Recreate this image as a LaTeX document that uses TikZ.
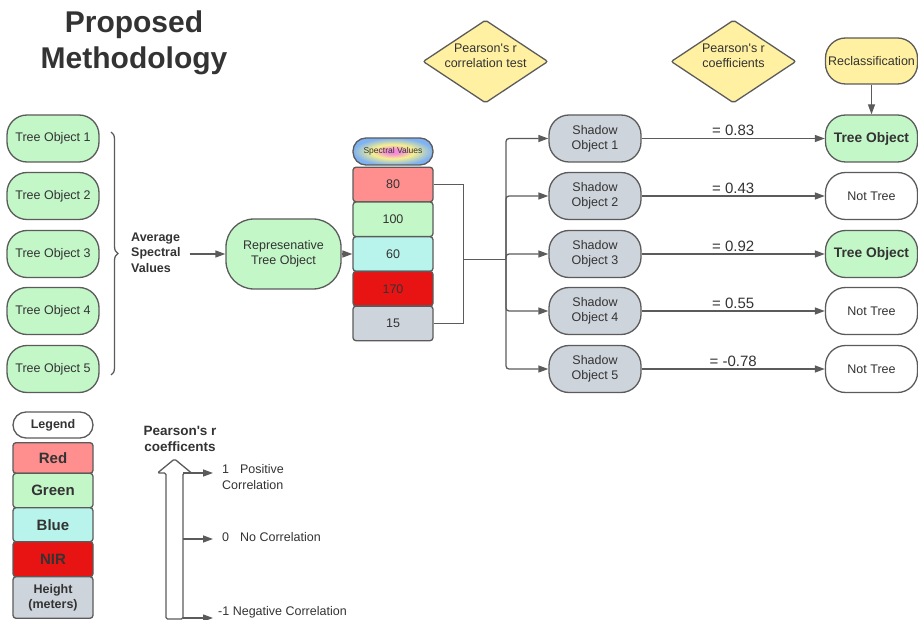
\documentclass[tikz,border=0pt]{standalone}
\usepackage{fontspec}
\setmainfont{Liberation Sans}
\newfontfamily\lsans{Liberation Sans}
\usetikzlibrary{arrows.meta,shapes.geometric,decorations.pathreplacing}
\definecolor{lc}{HTML}{5B5B5B}
\definecolor{tc}{HTML}{333333}
\definecolor{grn}{HTML}{C3F7C8}
\definecolor{gry}{HTML}{CED4DB}
\definecolor{redl}{HTML}{FF8F8F}
\definecolor{cyn}{HTML}{B8F4EC}
\definecolor{nir}{HTML}{E81313}
\definecolor{yel}{HTML}{FFF1A1}
\definecolor{pinkc}{HTML}{F58AD8}
\definecolor{yelc}{HTML}{F6F08E}
\definecolor{bluec}{HTML}{7FB2F2}
\pgfdeclareradialshading{specshade}{\pgfpoint{0bp}{0bp}}{color(0bp)=(pinkc); color(4bp)=(pinkc); color(13bp)=(yelc); color(25bp)=(bluec); color(50bp)=(bluec)}
\newcommand\myfs[2]{\lsans\fontsize{#1}{#2}\selectfont}
\begin{document}
\begin{tikzpicture}[x=1pt,y=-1pt,
  base/.style={draw=lc, line width=1.3pt, text=tc, font=\myfs{12.5}{15}, align=center, inner sep=0pt},
  pill/.style={base, rounded corners=20pt, minimum width=92pt, minimum height=47pt},
  cell/.style={base, rounded corners=3pt, minimum width=80pt},
  dia/.style={base, diamond, fill=yel, aspect=1.5, minimum width=125pt, minimum height=83pt, rounded corners=2pt, inner sep=-2pt},
  lab/.style={text=tc, font=\myfs{12.5}{16}, align=left, inner sep=0pt},
  line/.style={draw=lc, line width=1.3pt},
  arr/.style={line, -{Triangle[length=10pt,width=7pt]}},
  val/.style={text=tc, font=\myfs{15}{18}, above=2pt, inner sep=0pt}
]
\useasboundingbox (0,0) rectangle (918,620);
% title
\node[text=tc, font={\myfs{30}{36}\bfseries}, align=center, inner sep=0pt] (title) at (134,43) {Proposed\\Methodology};
% tree objects
\foreach \i/\y in {1/138.5,2/196,3/254,4/311,5/369}
  \node[pill, fill=grn] (to\i) at (53,\y) {Tree Object \i};
\draw[line, decorate, decoration={brace, amplitude=7pt}] (111,132) -- (111,375);
\node[lab, font={\myfs{12.5}{15.5}\bfseries}, anchor=west] (avg) at (131,252.5) {Average\\Spectral\\Values};
\node[pill, fill=grn, minimum width=115pt, minimum height=70pt, rounded corners=28pt] (rep) at (283.5,254) {Represenative\\Tree Object};
\draw[arr, shorten <=9pt] (avg.east |- rep.west) -- (rep.west);
% spectral stack
\node[base, shade, shading=specshade, rounded corners=13pt, minimum width=80pt, minimum height=27pt, font=\myfs{8.5}{10}] (sv) at (393,151.5) {Spectral Values};
\node[cell, fill=redl, minimum height=34.6pt] (r80) at (393,184.5) {80};
\node[cell, fill=grn, minimum height=34.6pt] (r100) at (393,219.3) {100};
\node[cell, fill=cyn, minimum height=34.6pt] (r60) at (393,254) {60};
\node[cell, fill=nir, minimum height=34.6pt] (r170) at (393,288.7) {170};
\node[cell, fill=gry, minimum height=34.6pt] (r15) at (393,323.4) {15};
\draw[arr] (rep.east) -- (r60.west);
\draw[line] (r80.east) -- ++(30,0) |- (r15.east);
\coordinate (bj) at (463,259.5);
\coordinate (split) at (506,259.5);
\draw[line] (bj) -- (split);
% shadow objects and results
\foreach \i/\y in {1/138.5,2/196,3/254,4/311,5/369}{
  \node[pill, fill=gry] (s\i) at (595,\y) {Shadow\\Object \i};
  \draw[arr, rounded corners=3pt] (split) |- (s\i.west);
}
\node[pill, fill=grn, font={\myfs{13.8}{16}\bfseries}] (t1) at (871.5,138.5) {Tree Object};
\node[pill, fill=white] (t2) at (871.5,196) {Not Tree};
\node[pill, fill=grn, font={\myfs{13.8}{16}\bfseries}] (t3) at (871.5,254) {Tree Object};
\node[pill, fill=white] (t4) at (871.5,311) {Not Tree};
\node[pill, fill=white] (t5) at (871.5,369) {Not Tree};
\draw[arr] (s1.east) -- node[val] {= 0.83} (t1.west);
\draw[arr] (s2.east) -- node[val] {= 0.43} (t2.west);
\draw[arr] (s3.east) -- node[val] {= 0.92} (t3.west);
\draw[arr] (s4.east) -- node[val] {= 0.55} (t4.west);
\draw[arr] (s5.east) -- node[val] {= -0.78} (t5.west);
% top row
\node[dia] (d1) at (485.5,61.5) {Pearson's r\\correlation test\vphantom{p}\\[-4pt]};
\node[dia] (d2) at (733.5,61.5) {Pearson's r\\coefficients\vphantom{p}\\[-4pt]};
\node[pill, fill=yel, minimum height=46pt] (rc) at (871.5,61) {Reclassification};
\draw[arr] (rc.south) -- (t1.north);
% legend
\node[pill, fill=white, minimum width=80pt, minimum height=26pt, rounded corners=13pt, font={\myfs{12.5}{15}\bfseries}] (leg) at (53,425) {Legend};
\node[cell, fill=redl, minimum height=30.6pt, font={\myfs{15}{17}\bfseries}] (lr) at (53,458) {Red};
\node[cell, fill=grn, minimum height=34.4pt, font={\myfs{15}{17}\bfseries}] (lg) at (53,490.5) {Green};
\node[cell, fill=cyn, minimum height=34pt, font={\myfs{15}{17}\bfseries}] (lb) at (53,524.7) {Blue};
\node[cell, fill=nir, minimum height=35pt, font={\myfs{15}{17}\bfseries}] (ln) at (53,559.2) {NIR};
\node[cell, fill=gry, minimum height=41.6pt, font={\myfs{12.5}{15}\bfseries}] (lh) at (53,597.5) {Height\\(meters)};
% pearson scale
\node[text=tc, font={\myfs{13.5}{16}\bfseries}, align=center, inner sep=0pt] (pc) at (180,439) {Pearson's r\\coefficents};
\draw[line, fill=white, rounded corners=1.5pt] (166,619) -- (166,473) -- (157.5,473) -- (174.5,459) -- (191.5,473) -- (183,473) -- (183,619) -- cycle;
\coordinate (p1) at (183,473);
\coordinate (p0) at (183,539);
\coordinate (pm) at (183,618);
\node[lab, anchor=west] (l1) at (222,477) {1\hspace{11pt}Positive\\Correlation};
\node[lab, anchor=west] (l0) at (222,537) {0\hspace{11pt}No Correlation};
\node[lab, anchor=west] (lm) at (218,612) {-1 Negative Correlation};
\draw[arr, shorten >=9pt] (p1) -- (p1 -| l1.west);
\draw[arr, shorten >=9pt] (p0) -- (p0 -| l0.west);
\draw[arr, shorten >=5pt] (pm) -- (pm -| lm.west);
\end{tikzpicture}
\end{document}
